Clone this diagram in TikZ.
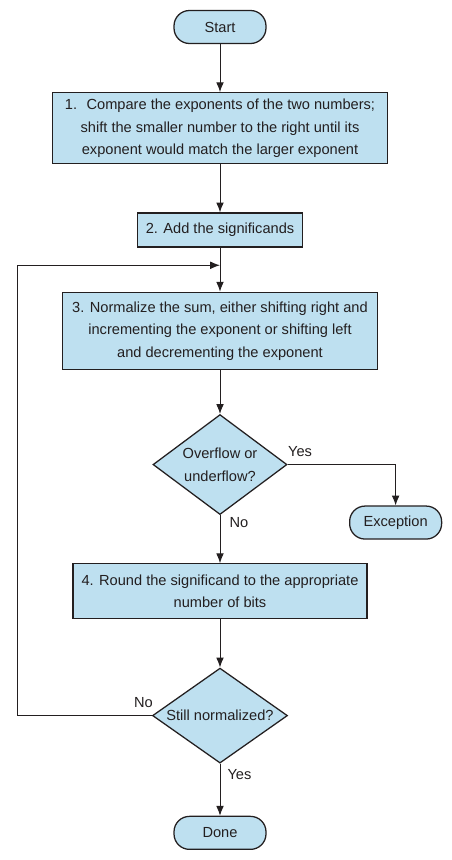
\documentclass[tikz,border=0pt]{standalone}
\usepackage{fontspec}
\setmainfont{Liberation Sans}
\usetikzlibrary{arrows.meta,calc,positioning,shapes.geometric}
\definecolor{fpblue}{RGB}{190,224,240}
\definecolor{fpink}{RGB}{35,31,32}

\begin{document}
\begin{tikzpicture}[
    node distance=12mm,
    >={Latex[length=7pt,width=5.5pt]},
    font=\fontsize{10.4}{16}\selectfont,
    text=fpink,
    stepbox/.style={
      rectangle,draw=fpink,fill=fpblue,line width=0.9pt,
      align=center,inner sep=2pt
    },
    terminal/.style={
      stepbox,rounded corners=11pt,
      minimum width=2.3cm,minimum height=0.825cm
    },
    decision/.style={
      diamond,draw=fpink,fill=fpblue,line width=0.9pt,
      align=center,inner sep=0pt
    },
    flow/.style={->,line width=0.7pt,draw=fpink},
    answer/.style={inner sep=0pt}
  ]
    \useasboundingbox (0,0) rectangle (11.3,-21.5);

    \node[terminal] (start) at (5.5,-0.675) {Start};
    \node[stepbox,below=of start,minimum width=8.375cm,minimum height=1.775cm] (align)
      {1.~ Compare the exponents of the two numbers;\\shift the smaller number to the right until its\\exponent would match the larger exponent};
    \node[stepbox,below=of align,minimum width=4.125cm,minimum height=0.85cm] (add)
      {2. Add the significands};
    \node[stepbox,below=11mm of add,minimum width=7.875cm,minimum height=1.925cm] (norm)
      {3. Normalize the sum, either shifting right and\\incrementing the exponent or shifting left\\and decrementing the exponent};
    \node[decision,below=11mm of norm,shape aspect=1.34,minimum width=3.35cm,minimum height=2.5cm] (over)
      {Overflow or\\underflow?};
    \node[terminal] (exc) at ([xshift=2.7cm,yshift=-1.45cm]over.east) {Exception};
    \node[stepbox,below=of over,minimum width=7.35cm,minimum height=1.375cm] (round)
      {4. Round the significand to the appropriate\\number of bits};
    \node[decision,below=of round,shape aspect=1.42,minimum width=3.375cm,minimum height=2.375cm] (still)
      {Still normalized?};
    \node[terminal,below=13mm of still] (done) {Done};

    \coordinate (loop) at ($(add.south)!0.4!(norm.north)$);
    \coordinate (back) at (0.425,0);

    \draw[flow] (start) -- (align);
    \draw[flow] (align) -- (add);
    \draw[flow] (add) -- (norm);
    \draw[flow] (norm) -- (over);
    \draw[flow] (over.east) -| node[pos=0,answer,anchor=south west,yshift=5pt] {Yes} (exc.north);
    \draw[flow] (over.south) -- node[pos=0,answer,anchor=north west,xshift=6.5pt,yshift=-1.5pt] {No} (round.north);
    \draw[flow] (round) -- (still);
    \draw[flow] (still.south) -- node[pos=0,answer,anchor=north west,xshift=5pt,yshift=-4pt] {Yes} (done.north);
    \draw[flow] (still.west) -- node[pos=0,answer,anchor=south east,xshift=1pt,yshift=5.5pt] {No} (still.west -| back) |- (loop);
  \end{tikzpicture}
\end{document}
